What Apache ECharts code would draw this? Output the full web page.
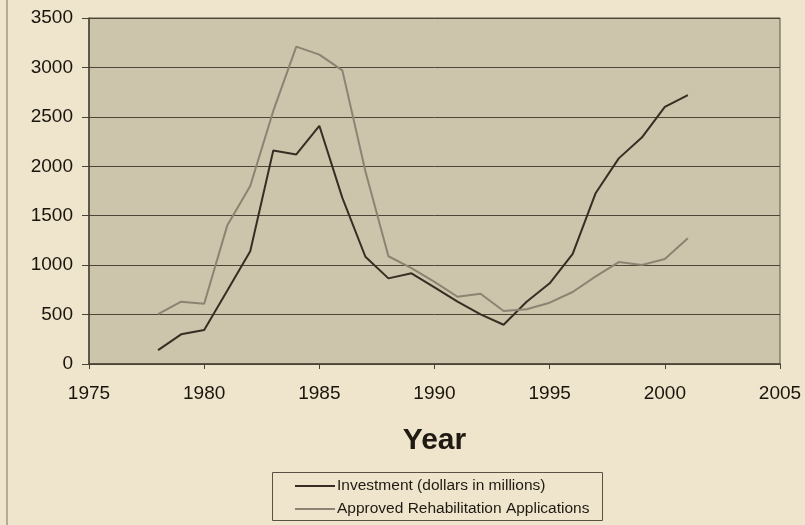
<!DOCTYPE html>
<html>
<head>
<meta charset="utf-8">
<script src="https://cdn.jsdelivr.net/npm/echarts@6/dist/echarts.min.js"></script>
<style>
html,body{margin:0;padding:0;background:#eee5cc;}
#chart{width:805px;height:525px;}
</style>
</head>
<body>
<div id="chart"></div>
<script>
var years = [1978,1979,1980,1981,1982,1983,1984,1985,1986,1987,1988,1989,1990,1991,1992,1993,1994,1995,1996,1997,1998,1999,2000,2001];
var investment = [140,300,345,740,1140,2160,2120,2410,1680,1085,866,917,775,630,502,397,630,816,1115,1730,2080,2290,2600,2720];
var applications = [505,630,610,1400,1800,2560,3210,3130,2970,1950,1090,970,830,680,710,536,553,620,728,886,1031,1001,1062,1271];
var seriesNames = ['Investment (dollars in millions)','Approved Rehabilitation Applications'];
var xTitle = 'Year';

function pairs(vals){ return years.map(function(y,i){ return [y, vals[i]]; }); }
function plain(v){ return String(v); }

var font = '"Liberation Sans", Arial, sans-serif';
var chart = echarts.init(document.getElementById('chart'));
chart.setOption({
  backgroundColor: '#eee5cc',
  animation: false,
  grid: {left: 89, right: 25, top: 18, bottom: 161, show: true, backgroundColor: '#ccc4ab', borderColor: '#5a5142', borderWidth: 1},
  xAxis: {
    type: 'value', min: 1975, max: 2005, interval: 5,
    name: xTitle, nameLocation: 'middle', nameGap: 62,
    nameTextStyle: {fontFamily: font, fontSize: 30, fontWeight: 'bold', color: '#1f1a12'},
    axisLine: {show: true, lineStyle: {color: '#4a4234', width: 1.5}},
    axisTick: {show: true, length: 5, lineStyle: {color: '#4a4234'}},
    axisLabel: {fontFamily: font, fontSize: 19, color: '#1a140c', margin: 20, formatter: plain},
    splitLine: {show: false}
  },
  yAxis: {
    type: 'value', min: 0, max: 3500, interval: 500,
    axisLine: {show: true, lineStyle: {color: '#4a4234', width: 1.5}},
    axisTick: {show: true, length: 7, lineStyle: {color: '#4a4234'}},
    axisLabel: {fontFamily: font, fontSize: 19, color: '#1a140c', margin: 16, formatter: plain},
    splitLine: {show: true, lineStyle: {color: '#4d4536', width: 1}}
  },
  legend: {
    orient: 'vertical', left: 290, top: 473, itemGap: 7,
    itemWidth: 40, itemHeight: 2,
    textStyle: {fontFamily: font, fontSize: 15.5, color: '#1f1a12', padding: [0, 0, 0, -3]},
    data: [
      {name: seriesNames[0], icon: 'path://M0,0 L40,0 L40,2 L0,2 Z', itemStyle: {color: '#362e22'}},
      {name: seriesNames[1], icon: 'path://M0,0 L40,0 L40,2 L0,2 Z', itemStyle: {color: '#8c8473'}}
    ]
  },
  graphic: [
    {type: 'rect', left: 270, top: 470, shape: {width: 330, height: 48}, style: {fill: 'none', stroke: '#5a5142', lineWidth: 1}, z: 0},
    {type: 'line', shape: {x1: 7, y1: 0, x2: 7, y2: 525}, style: {stroke: '#7a7060', lineWidth: 1}}
  ],
  series: [
    {name: seriesNames[0], type: 'line', data: pairs(investment), symbol: 'none', lineStyle: {color: '#362e22', width: 2}, itemStyle: {color: '#362e22'}},
    {name: seriesNames[1], type: 'line', data: pairs(applications), symbol: 'none', lineStyle: {color: '#8c8473', width: 2}, itemStyle: {color: '#8c8473'}}
  ]
});
</script>
</body>
</html>
